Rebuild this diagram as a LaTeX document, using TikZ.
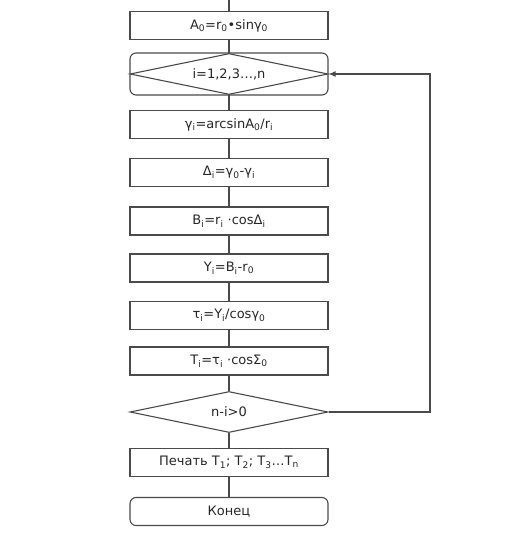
\documentclass[tikz,border=0pt]{standalone}
\usepackage{fontspec}
\setmainfont{DejaVu Sans}
\usetikzlibrary{shapes.geometric,arrows.meta}
\newcommand{\low}[1]{\textsubscript{#1}}
\definecolor{linegray}{HTML}{4a4a4a}
\begin{document}
\begin{tikzpicture}[x=1pt,y=-1pt,line width=1.1pt,
  step box/.style={rectangle,draw=linegray,minimum width=198pt,minimum height=28pt,inner sep=0pt,font=\fontsize{13}{15}\selectfont,text=black!85},
  term box/.style={step box,rounded corners=6pt},
  cond node/.style={diamond,aspect=4.8,draw=linegray,minimum width=198pt,minimum height=41pt,inner sep=0pt,font=\fontsize{13}{15}\selectfont,text=black!85}]%
\useasboundingbox (0,0) rectangle (512,545);
\begin{scope}
\coordinate (top) at (229,0);
\node[step box] (a0) at (229,25.5) {A\low{0}=r\low{0}•sinγ\low{0}};
\node[term box,minimum height=42pt] (loop) at (229,74) {};
\node[cond node] (cyc) at (229,74) {i=1,2,3…,n};
\node[step box] (gam) at (229,124.5) {γ\low{i}=arcsinA\low{0}/r\low{i}};
\node[step box] (del) at (229,172.5) {Δ\low{i}=γ\low{0}-γ\low{i}};
\node[step box] (bi) at (229,221) {B\low{i}=r\low{i} ·cosΔ\low{i}};
\node[step box] (yi) at (229,268) {Y\low{i}=B\low{i}-r\low{0}};
\node[step box] (tau) at (229,315.5) {τ\low{i}=Y\low{i}/cosγ\low{0}};
\node[step box] (ti) at (229,361) {T\low{i}=τ\low{i} ·cosΣ\low{0}};
\node[cond node] (chk) at (229,412) {n-i>0};
\node[step box] (out) at (229,462.5) {Печать T\low{1}; T\low{2}; T\low{3}…T\low{n}};
\node[term box] (fin) at (229,511.5) {Конец};
\coordinate (c1) at (430,412);
\coordinate (c2) at (430,74);
\end{scope}
\begin{scope}[every edge/.style={draw=linegray,line width=1.1pt}]
\draw (top) edge (a0);
\draw (a0) edge (cyc);
\draw (cyc) edge (gam);
\draw (gam) edge (del);
\draw (del) edge (bi);
\draw (bi) edge (yi);
\draw (yi) edge (tau);
\draw (tau) edge (ti);
\draw (ti) edge (chk);
\draw (chk) edge (out);
\draw (out) edge (fin);
\draw[draw=linegray,-{Latex[length=7pt,width=6pt]}] (chk.east) -- (c1) -- (c2) -- (loop.east);
\end{scope}
\end{tikzpicture}
\end{document}
